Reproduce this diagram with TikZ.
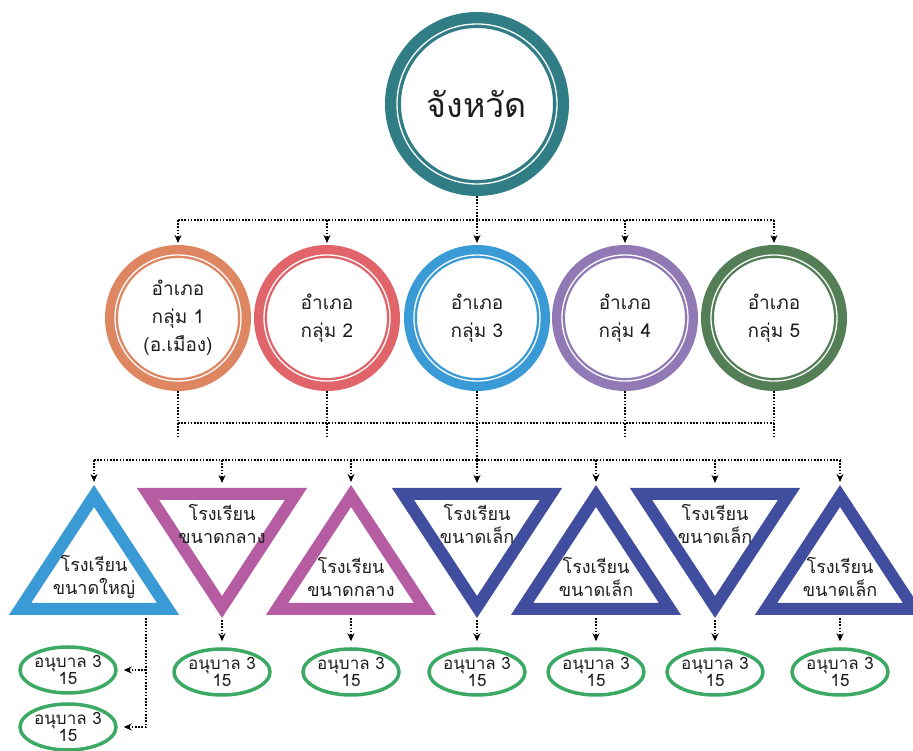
\documentclass[tikz,border=0pt]{standalone}
\usepackage{fontspec}
\newfontfamily\thaifont[Script=Thai]{Loma}
\usepackage{tikz}
\usetikzlibrary{arrows.meta,positioning,shapes.geometric}

\definecolor{txtC}{HTML}{1E1E1E}
\definecolor{provC}{HTML}{317D86}
\definecolor{orgC}{HTML}{DE8561}
\definecolor{redC}{HTML}{E1646A}
\definecolor{bluC}{HTML}{3A9AD5}
\definecolor{purC}{HTML}{9079B4}
\definecolor{grnC}{HTML}{547E56}
\definecolor{magC}{HTML}{B65CA2}
\definecolor{navC}{HTML}{414EA0}
\definecolor{kgC}{HTML}{3CAA64}

\begin{document}
\begin{tikzpicture}[
    x=1pt, y=1pt,
    pcirc/.style={circle, draw=provC, line width=16pt, minimum size=168pt,
                  inner sep=0pt, fill=white, text=txtC,
                  font=\thaifont\fontsize{34}{40}\selectfont},
    dcirc/.style={circle, draw=#1, line width=13pt, minimum size=133pt,
                  inner sep=0pt, fill=white, align=center, text=txtC,
                  font=\thaifont\fontsize{19}{28}\selectfont},
    wring/.style={draw=white, line width=1.3pt},
    tri/.style={isosceles triangle, isosceles triangle stretches, draw=#1,
                line width=12pt, minimum width=148pt, minimum height=113pt,
                inner sep=0pt, outer sep=0pt, fill=white},
    tup/.style={shape border rotate=90},
    tdn/.style={shape border rotate=270},
    ttxt/.style={align=center, text=txtC, font=\thaifont\fontsize{18}{23}\selectfont},
    kbox/.style={ellipse, draw=kgC, line width=3.5pt, minimum width=96pt,
                 minimum height=46pt, inner sep=0pt, fill=white, align=center,
                 text=txtC, font=\thaifont\fontsize{17}{16}\selectfont},
    dots/.style={line width=1.6pt, dash pattern=on 1.6pt off 1.6pt},
    darr/.style={dots, -{Stealth[length=8pt, width=7pt]}},
]
\useasboundingbox (0,0) rectangle (913,751);

%% ── Province (top) ───────────────────────────────────────────────────────────
\node[pcirc] (prov) at (477,647) {จังหวัด};
\draw[wring] (prov.center) circle (80);

%% ── District groups ──────────────────────────────────────────────────────────
\node[dcirc=orgC] (d1) at (178,433) {อำเภอ\\กลุ่ม 1\\(อ.เมือง)};
\node[dcirc=redC] (d2) at (327,433) {อำเภอ\\กลุ่ม 2};
\node[dcirc=bluC] (d3) at (477,433) {อำเภอ\\กลุ่ม 3};
\node[dcirc=purC] (d4) at (625,433) {อำเภอ\\กลุ่ม 4};
\node[dcirc=grnC] (d5) at (774,433) {อำเภอ\\กลุ่ม 5};

\draw[wring] (d1.center) circle (63);
\draw[wring] (d2.center) circle (63);
\draw[wring] (d3.center) circle (63);
\draw[wring] (d4.center) circle (63);
\draw[wring] (d5.center) circle (63);

%% ── Schools (triangles) ──────────────────────────────────────────────────────
\node[tri=bluC, tup, anchor=lower side] (t1) at (94,142)  {};
\node[tri=magC, tdn, anchor=lower side] (t2) at (222,257) {};
\node[tri=magC, tup, anchor=lower side] (t3) at (351,142) {};
\node[tri=navC, tdn, anchor=lower side] (t4) at (477,257) {};
\node[tri=navC, tup, anchor=lower side] (t5) at (596,142) {};
\node[tri=navC, tdn, anchor=lower side] (t6) at (715,257) {};
\node[tri=navC, tup, anchor=lower side] (t7) at (840,142) {};

\node[ttxt] (s1) at ([yshift=32pt]t1.lower side)  {โรงเรียน\\ขนาดใหญ่};
\node[ttxt] (s2) at ([yshift=-30pt]t2.lower side) {โรงเรียน\\ขนาดกลาง};
\node[ttxt] (s3) at ([yshift=32pt]t3.lower side)  {โรงเรียน\\ขนาดกลาง};
\node[ttxt] (s4) at ([yshift=-30pt]t4.lower side) {โรงเรียน\\ขนาดเล็ก};
\node[ttxt] (s5) at ([yshift=32pt]t5.lower side)  {โรงเรียน\\ขนาดเล็ก};
\node[ttxt] (s6) at ([yshift=-30pt]t6.lower side) {โรงเรียน\\ขนาดเล็ก};
\node[ttxt] (s7) at ([yshift=32pt]t7.lower side)  {โรงเรียน\\ขนาดเล็ก};

%% ── Kindergartens (ellipses) ─────────────────────────────────────────────────
\node[kbox] (k1)  at (68,81)  {อนุบาล 3\\15};
\node[kbox] (k1b) at (68,24)  {อนุบาล 3\\15};
\node[kbox] (k2)  at (222,79) {อนุบาล 3\\15};
\node[kbox] (k3)  at (351,79) {อนุบาล 3\\15};
\node[kbox] (k4)  at (477,79) {อนุบาล 3\\15};
\node[kbox] (k5)  at (596,79) {อนุบาล 3\\15};
\node[kbox] (k6)  at (715,79) {อนุบาล 3\\15};
\node[kbox] (k7)  at (840,79) {อนุบาล 3\\15};

%% ── Connectors ───────────────────────────────────────────────────────────────
\coordinate (top) at (477,531);
\coordinate (mid) at (477,328);
\coordinate (low) at (477,314);
\coordinate (bus) at (477,291);
\coordinate (br)  at ([xshift=52pt]t1.lower side);

% province -> districts
\draw[dots] (prov.south) -- (top);
\draw[dots] (d1.north |- top) -- (d5.north |- top);
\draw[darr, shorten >=2pt] (d1.north |- top) -- (d1.north);
\draw[darr, shorten >=2pt] (d2.north |- top) -- (d2.north);
\draw[darr, shorten >=2pt] (d3.north |- top) -- (d3.north);
\draw[darr, shorten >=2pt] (d4.north |- top) -- (d4.north);
\draw[darr, shorten >=2pt] (d5.north |- top) -- (d5.north);

% districts -> schools
\draw[dots] (d1.south) -- (d1.south |- low);
\draw[dots] (d2.south) -- (d2.south |- low);
\draw[dots] (d4.south) -- (d4.south |- low);
\draw[dots] (d5.south) -- (d5.south |- low);
\draw[dots] (d1.south |- mid) -- (d5.south |- mid);
\draw[dots] (d3.south) -- (bus);
\draw[dots] (t1.apex |- bus) -- (t7.apex |- bus);

\draw[darr, shorten >=14pt] (t1.apex |- bus) -- (t1.apex);
\draw[darr, shorten >=11pt] (t2.lower side |- bus) -- (t2.lower side);
\draw[darr, shorten >=14pt] (t3.apex |- bus) -- (t3.apex);
\draw[darr, shorten >=11pt] (t4.lower side |- bus) -- (t4.lower side);
\draw[darr, shorten >=14pt] (t5.apex |- bus) -- (t5.apex);
\draw[darr, shorten >=11pt] (t6.lower side |- bus) -- (t6.lower side);
\draw[darr, shorten >=14pt] (t7.apex |- bus) -- (t7.apex);

% schools -> kindergartens
\draw[darr, shorten <=9pt, shorten >=6pt] (br) |- (k1b.east);
\draw[darr, shorten >=6pt] (br |- k1.east) -- (k1.east);
\draw[darr, shorten <=13pt, shorten >=6pt] (t2.apex) -- (k2.north);
\draw[darr, shorten <=9pt, shorten >=6pt]  (t3.lower side) -- (k3.north);
\draw[darr, shorten <=13pt, shorten >=6pt] (t4.apex) -- (k4.north);
\draw[darr, shorten <=9pt, shorten >=6pt]  (t5.lower side) -- (k5.north);
\draw[darr, shorten <=13pt, shorten >=6pt] (t6.apex) -- (k6.north);
\draw[darr, shorten <=9pt, shorten >=6pt]  (t7.lower side) -- (k7.north);

\end{tikzpicture}
\end{document}
